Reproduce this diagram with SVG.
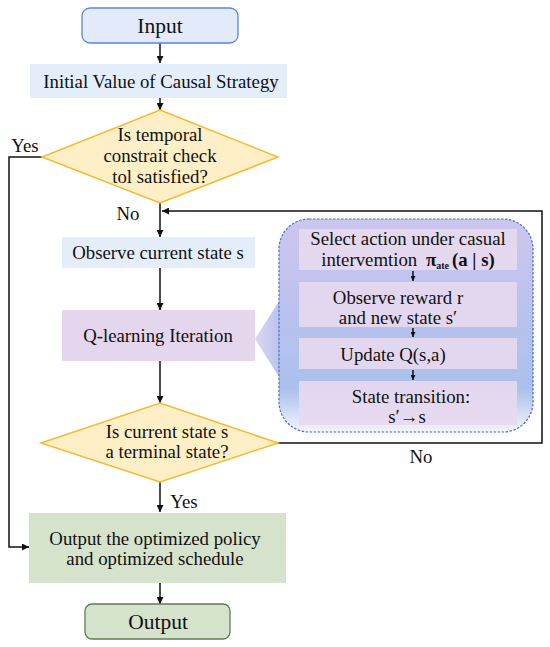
<svg xmlns="http://www.w3.org/2000/svg" width="550" height="647" viewBox="0 0 550 647">
<defs>
<style>
text{font-family:"Liberation Serif","Times New Roman",serif;fill:#111;text-anchor:middle}
.t18{font-size:18.8px}
.t21{font-size:21.5px}
.ln{fill:none;stroke:#111;stroke-width:1.5}
.dia{fill:#feefc6;stroke:#f6b930;stroke-width:1.5}
.blue{fill:#e4edfa}
.lav{fill:#e3d6ed}
.inner{fill:#e6d9ef;opacity:0.92}
.green{fill:#d5e3cc}
</style>
<marker id="ah" viewBox="0 0 10 10" refX="10" refY="5" markerWidth="7" markerHeight="7" markerUnits="userSpaceOnUse" orient="auto">
<path d="M0,0 L10,5 L0,10 z" fill="#111"/>
</marker>
<marker id="ahs" viewBox="0 0 10 10" refX="10" refY="5" markerWidth="5" markerHeight="5" markerUnits="userSpaceOnUse" orient="auto">
<path d="M0,0 L10,5 L0,10 z" fill="#111"/>
</marker>
<linearGradient id="cg" x1="0" y1="0" x2="0" y2="1">
<stop offset="0" stop-color="#cdc6ee"/>
<stop offset="0.45" stop-color="#b9c2ee"/>
<stop offset="0.8" stop-color="#abc0ec"/>
<stop offset="1" stop-color="#f3f5fc"/>
</linearGradient>
<linearGradient id="wg" x1="0" y1="0" x2="1" y2="0">
<stop offset="0" stop-color="#e0d6ef"/>
<stop offset="1" stop-color="#b6c2ee"/>
</linearGradient>
</defs>

<g id="connectors">
<line class="ln" x1="160" y1="43" x2="160" y2="63" marker-end="url(#ah)"/>
<line class="ln" x1="160" y1="98" x2="160" y2="110" marker-end="url(#ah)"/>
<polyline class="ln" points="160,203 160,237" marker-end="url(#ah)"/>
<polyline class="ln" points="278,443 542,443 542,211 162,211" marker-end="url(#ah)"/>
<line class="ln" x1="160" y1="268" x2="160" y2="310" marker-end="url(#ah)"/>
<line class="ln" x1="160" y1="361" x2="160" y2="403" marker-end="url(#ah)"/>
<line class="ln" x1="160" y1="482" x2="160" y2="512" marker-end="url(#ah)"/>
<polyline class="ln" points="42,157 9,157 9,547 29,547" marker-end="url(#ah)"/>
<line class="ln" x1="160" y1="583" x2="160" y2="604" marker-end="url(#ah)"/>
<text class="t18" x="25" y="152">Yes</text>
<text class="t18" x="128" y="220">No</text>
<text class="t18" x="421" y="463">No</text>
<text class="t18" x="184" y="508">Yes</text>
</g>

<g id="input">
<rect x="82" y="8" width="156" height="35" rx="8" fill="#e3ebfb" stroke="#5b85d6" stroke-width="1.3"/>
<text class="t21" x="160" y="33">Input</text>
</g>

<g id="initial">
<rect class="blue" x="30" y="64" width="257" height="34"/>
<text class="t18" x="161" y="88">Initial Value of Causal Strategy</text>
</g>

<g id="check1">
<polygon class="dia" points="160,110 278,157 160,203 42,157"/>
<text class="t18" x="160" y="141">Is temporal</text>
<text class="t18" x="160" y="162">constrait check</text>
<text class="t18" x="160" y="183">tol satisfied?</text>
</g>

<g id="observe">
<rect class="blue" x="62" y="237" width="193" height="31"/>
<text class="t18" x="158" y="259">Observe current state s</text>
</g>

<g id="qlearn">
<rect class="lav" x="62" y="310" width="193" height="51"/>
<text class="t18" x="158" y="342">Q-learning Iteration</text>
</g>

<g id="callout">
<polygon points="255,339 281,298 281,380" fill="url(#wg)"/>
<rect x="279" y="219" width="254" height="213" rx="30" fill="url(#cg)" stroke="#4a6fc8" stroke-width="1.2" stroke-dasharray="2.5,1.5"/>
</g>

<g id="select">
<rect class="inner" x="299" y="229" width="218" height="41"/>
<text class="t18" x="408" y="245">Select action under casual</text>
<text class="t18" x="408" y="266">intervemtion <tspan font-weight="bold" dx="4">π</tspan><tspan font-weight="bold" font-size="10" dy="3">ate</tspan><tspan font-weight="bold" dy="-3" dx="3">(a | s)</tspan></text>
</g>

<g id="reward">
<rect class="inner" x="299" y="282" width="218" height="45"/>
<text class="t18" x="398" y="304">Observe reward r</text>
<text class="t18" x="398" y="324">and new state s′</text>
</g>

<g id="update">
<rect class="inner" x="299" y="338" width="218" height="31"/>
<text class="t18" x="393" y="361">Update Q(s,a)</text>
</g>

<g id="transition">
<rect class="inner" x="299" y="381" width="218" height="44"/>
<text class="t18" x="411" y="403">State transition:</text>
<text class="t18" x="407" y="423">s′→s</text>
</g>

<g id="inner-arrows">
<line class="ln" stroke-width="1.2" x1="413" y1="271" x2="413" y2="281" marker-end="url(#ahs)"/>
<line class="ln" stroke-width="1.2" x1="413" y1="328" x2="413" y2="337" marker-end="url(#ahs)"/>
<line class="ln" stroke-width="1.2" x1="413" y1="370" x2="413" y2="380" marker-end="url(#ahs)"/>
</g>

<g id="check2">
<polygon class="dia" points="160,403 278,443 160,482 41,443"/>
<text class="t18" x="167" y="438">Is current state s</text>
<text class="t18" x="167" y="458">a terminal state?</text>
</g>

<g id="result">
<rect class="green" x="29" y="513" width="257" height="70"/>
<text class="t18" x="155" y="545">Output the optimized policy</text>
<text class="t18" x="155" y="565">and optimized schedule</text>
</g>

<g id="output">
<rect class="green" x="85" y="604" width="145" height="35" rx="7" stroke="#5e7f4e" stroke-width="1.3"/>
<text class="t21" x="158" y="629">Output</text>
</g>
</svg>
